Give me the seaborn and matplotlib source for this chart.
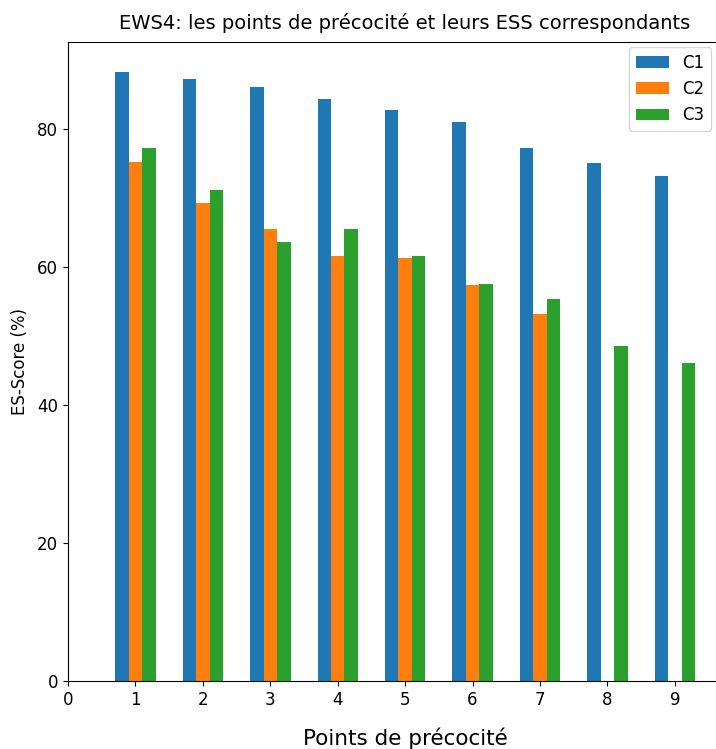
# coding: utf-8
# EWS4 : points de précocité et ESS correspondants (barres groupées)

import numpy as np
import pandas as pd
import seaborn as sns
import matplotlib
matplotlib.use('Agg')
import matplotlib.pyplot as plt

# DATA
points = [1, 2, 3, 4, 5, 6, 7, 8, 9]
c1 = [88.2, 87.2, 86.0, 84.4, 82.8, 81.0, 77.2, 75.1, 73.1]
c2 = [75.2, 69.2, 65.5, 61.6, 61.3, 57.3, 53.2, np.nan, np.nan]
c3 = [77.2, 71.1, 63.6, 65.5, 61.6, 57.5, 55.4, 48.6, 46.1]
series = ['C1', 'C2', 'C3']
colors = ['#1f77b4', '#ff7f0e', '#2ca02c']

rows = []
for name, vals in zip(series, [c1, c2, c3]):
  for p, v in zip(points, vals):
    if not np.isnan(v):
      rows.append({'point': p, 'score': v, 'serie': name})
df = pd.DataFrame(rows)

fig = plt.figure(figsize=(7.16, 7.49), dpi=100)
ax = fig.add_axes([0.095, 0.091, 0.905, 0.853])

sns.barplot(data=df, x='point', y='score', hue='serie', hue_order=series,
            palette=colors, saturation=1, native_scale=True, width=0.6,
            errorbar=None, ax=ax)

ax.set_xlim(0, 9.61)
ax.set_ylim(0, 92.6)
ax.set_xticks(range(10))
ax.set_yticks([0, 20, 40, 60, 80])
ax.spines['right'].set_visible(False)
ax.tick_params(labelsize=12)

ax.set_title('EWS4: les points de précocité et leurs ESS correspondants', fontsize=14, pad=9, x=0.52)
ax.set_xlabel('Points de précocité', fontsize=15.5)
ax.xaxis.set_label_coords(0.52, -0.073)
ax.set_ylabel('ES-Score (%)', fontsize=12, labelpad=6)

sns.move_legend(ax, 'upper right', bbox_to_anchor=(1.0, 1.0), title=None,
                fontsize=12, borderaxespad=0.3)

fig.savefig('out.png', dpi=100)
